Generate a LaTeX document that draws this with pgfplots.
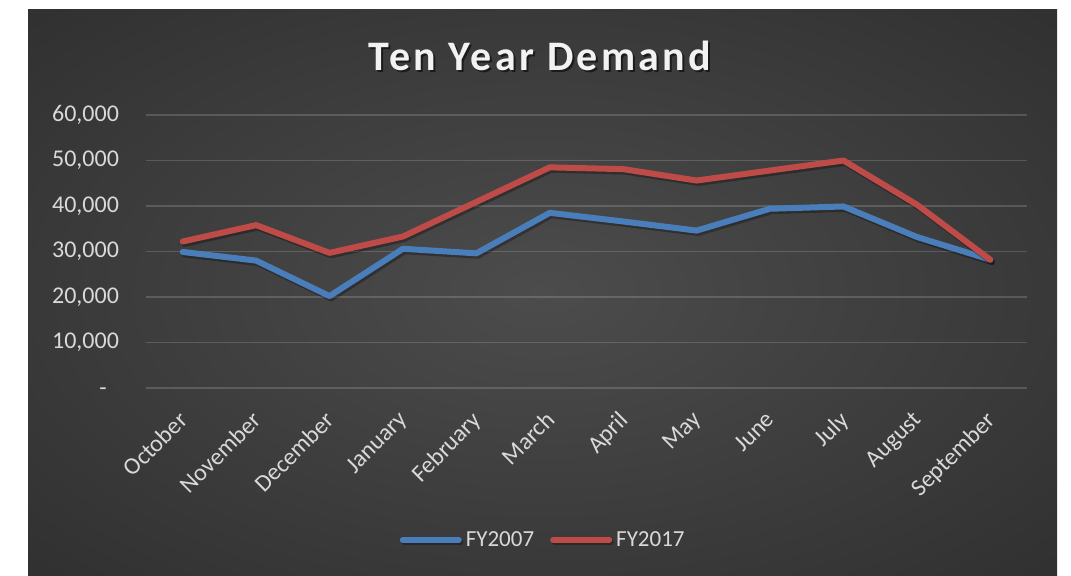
\documentclass[border=0pt]{standalone}
\usepackage{fontspec}
\setmainfont{Carlito}
\newfontfamily\titlefont[LetterSpace=8]{Carlito}
\usepackage{pgfplots}
\pgfplotsset{compat=1.18}

\definecolor{bgedge}{HTML}{252525}
\definecolor{bgmid}{HTML}{4C4C4C}
\definecolor{tickc}{HTML}{D9D9D9}
\definecolor{fyblue}{HTML}{4A7EBB}
\definecolor{fyred}{HTML}{BE4B48}

\pgfdeclareradialshading{chartbg}{\pgfpoint{0bp}{0bp}}{color(0bp)=(bgmid); color(50bp)=(bgedge)}

\begin{document}
\begin{tikzpicture}
% page is 1071 x 575 "pixels", 1 px = 0.5pt
\begin{scope}[x=0.5pt, y=0.5pt]
\path[use as bounding box, fill=white] (0,0) rectangle (1071,575);
\shade[shading=chartbg] (28,0) rectangle (1057,566);
% title with a soft shadow
\node[anchor=base, text=black, opacity=0.55] at (542,503)
  {\titlefont\fontsize{21}{25}\selectfont\bfseries Ten Year Demand};
\node[anchor=base, text=white!95!black] at (540,505)
  {\titlefont\fontsize{21}{25}\selectfont\bfseries Ten Year Demand};
\end{scope}

\begin{axis}[
    at={(73pt,93.5pt)}, anchor=south west,
    scale only axis,
    width=440.5pt, height=136.5pt,
    xmin=-0.5, xmax=11.5,
    ymin=0, ymax=60000,
    scaled y ticks=false,
    xtick={0,...,11},
    xticklabels={October, November, December, January, February, March, April, May, June, July, August, September},
    ytick={0,10000,...,60000},
    yticklabels={{-\phantom{0}},{10,000},{20,000},{30,000},{40,000},{50,000},{60,000}},
    axis line style={draw=none},
    major tick length=0pt,
    ymajorgrids,
    major grid style={white, opacity=0.16, line width=0.75pt},
    tick label style={text=tickc, font=\fontsize{12}{14}\selectfont},
    yticklabel style={anchor=east, xshift=-10pt},
    xticklabel style={rotate=45, anchor=north east, yshift=-2.3pt, xshift=-6.2pt},
    clip=false,
    legend style={at={(0.452,-0.557)}, anchor=center, draw=none, fill=none,
        text=tickc, font=\fontsize{11.5}{14}\selectfont, legend columns=2,
        /tikz/column 2/.style={column sep=6pt}},
    legend image code/.code={\draw[#1, line cap=round] (0pt,0pt) -- (28pt,0pt);},
    every axis plot/.append style={line width=3pt, line join=round, line cap=round,
        preaction={draw=black, opacity=0.3, transform canvas={xshift=0.8pt, yshift=-1.2pt}}},
]

% FY2007
\addplot[fyblue] coordinates {
    (0,29900) (1,28000) (2,20200) (3,30600) (4,29600) (5,38500)
    (6,36600) (7,34600) (8,39400) (9,39900) (10,33200) (11,28200)
};

% FY2017
\addplot[fyred] coordinates {
    (0,32200) (1,35800) (2,29700) (3,33300) (4,40900) (5,48500)
    (6,48100) (7,45600) (8,47800) (9,50000) (10,40300) (11,28200)
};

\legend{FY2007, FY2017}
\end{axis}
\end{tikzpicture}
\end{document}
